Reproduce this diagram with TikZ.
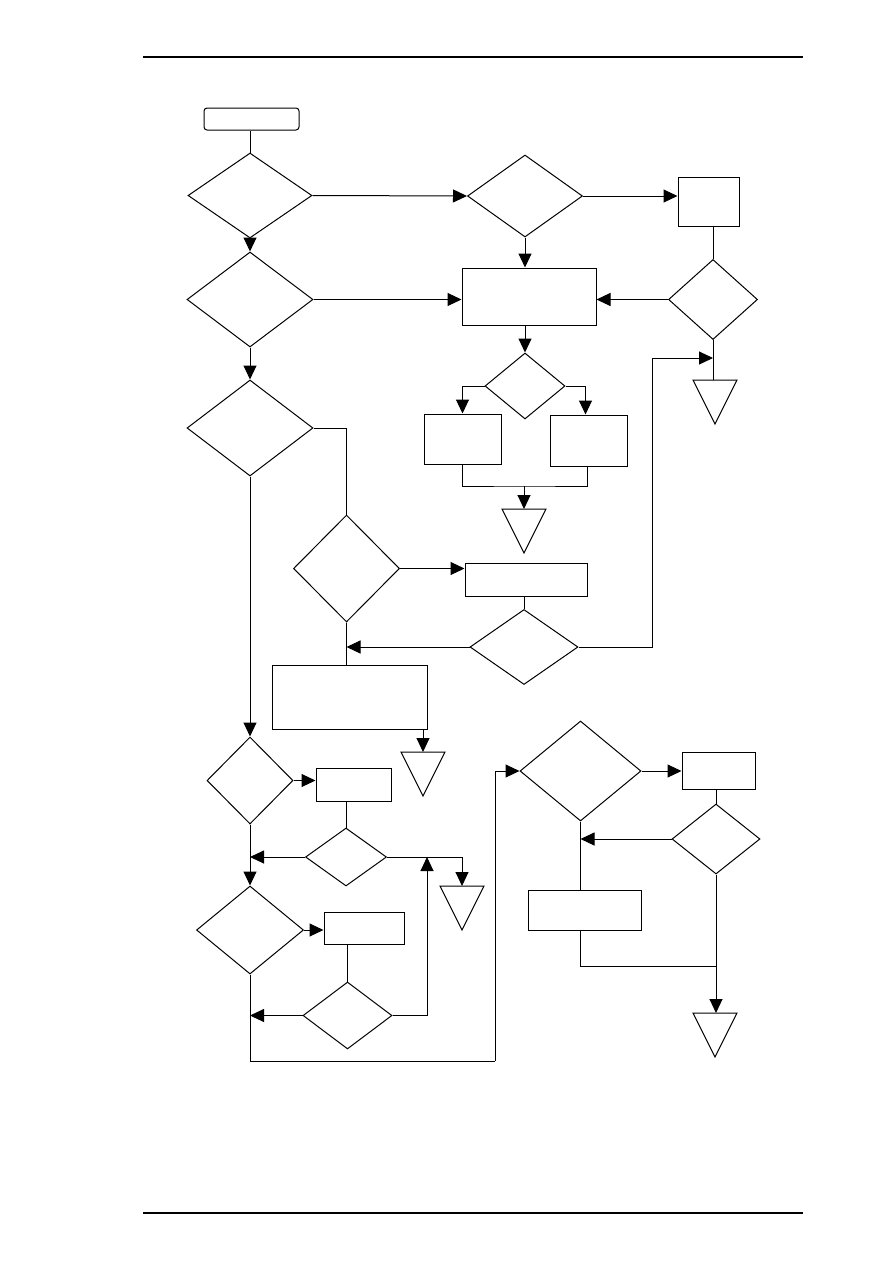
\documentclass[tikz,border=0pt]{standalone}
\usetikzlibrary{arrows.meta,shapes.geometric}
\begin{document}
\begin{tikzpicture}[x=1pt,y=-1pt,
  ln/.style={line width=1pt},
  arr/.style={ln,-{Triangle[length=14pt,width=13pt]}},
  dia/.style={draw,ln,diamond,inner sep=0pt},
  box/.style={draw,ln,rectangle,inner sep=0pt},
  rule/.style={line width=2.4pt}]
\useasboundingbox (0,0) rectangle (893,1263);
% page rules
\coordinate (r1a) at (143,57); \coordinate (r1b) at (803,57);
\coordinate (r2a) at (143,1213); \coordinate (r2b) at (803,1213);
\draw[line width=2pt] (r1a) -- (r1b);
\draw[line width=2.8pt] (r2a) -- (r2b);
% nodes
\node[box,rounded corners=3pt,minimum width=95pt,minimum height=22pt] (S) at (251.5,119) {};
\node[dia,minimum width=124pt,minimum height=85pt] (D1) at (250,195.5) {};
\node[dia,minimum width=126pt,minimum height=95pt] (D2) at (250,299.5) {};
\node[dia,minimum width=115pt,minimum height=82pt] (D3) at (525,196) {};
\node[box,minimum width=61pt,minimum height=49pt] (R1) at (708.5,201.5) {};
\node[box,minimum width=134pt,minimum height=57pt] (B1) at (529,296.5) {};
\node[dia,minimum width=89pt,minimum height=80pt] (D5) at (713,299.5) {};
\node[dia,minimum width=80pt,minimum height=66pt] (D6) at (525,386) {};
\node[box,minimum width=77pt,minimum height=50pt] (B2) at (462.5,439) {};
\node[box,minimum width=77pt,minimum height=51pt] (B3) at (588.5,440.5) {};
\node[dia,minimum width=126pt,minimum height=96pt] (D4) at (250,428) {};
\node[dia,minimum width=106pt,minimum height=107pt] (D7) at (346.5,568.5) {};
\node[box,minimum width=122pt,minimum height=33pt] (B4) at (526,579.5) {};
\node[dia,minimum width=108pt,minimum height=75pt] (D9) at (524,647) {};
\node[box,minimum width=155pt,minimum height=64pt] (B5) at (349.5,697) {};
\node[dia,minimum width=86pt,minimum height=87pt] (D8) at (250,780.5) {};
\node[box,minimum width=75pt,minimum height=33pt] (B6) at (353.5,784.5) {};
\node[dia,minimum width=81pt,minimum height=58pt] (D10) at (346,857) {};
\node[dia,minimum width=107pt,minimum height=88pt] (D11) at (250,930) {};
\node[box,minimum width=80pt,minimum height=32pt] (B7) at (364,928) {};
\node[dia,minimum width=89pt,minimum height=67pt] (D12) at (347.5,1015.5) {};
\node[dia,minimum width=121pt,minimum height=100pt] (D13) at (580.5,771) {};
\node[box,minimum width=73pt,minimum height=37pt] (B8) at (718.5,770.5) {};
\node[dia,minimum width=88pt,minimum height=70pt] (D14) at (716,839) {};
\node[box,minimum width=113pt,minimum height=40pt] (B9) at (584.5,910) {};
% triangles (top-centre coordinates)
\coordinate (T1) at (715,380);
\coordinate (T2) at (524,509);
\coordinate (T3) at (423,752);
\coordinate (T4) at (462,886);
\coordinate (T5) at (715,1013);
\foreach \t in {T1,T2,T3,T4,T5}{
  \draw[ln,line join=miter] ([xshift=-22pt]\t) -- ([xshift=22pt]\t) -- ([yshift=-44pt]\t) -- cycle;
}
% helper coordinates
\coordinate (L2) at (652,358);
\coordinate (J1) at (713,358);
\coordinate (J2) at (427,857);
\coordinate (L3) at (495,1061);
\coordinate (J5) at (716,966);
\coordinate (M1) at (524,486);
% connectors
\draw[ln] (D1.north |- S.south) -- (D1.north);
\draw[arr] (D1.south) -- (D2.north);
\draw[arr] (D1.east) -- (D3.west);
\draw[arr] (D3.east) -- (D3.east -| R1.west);
\draw[arr] (D3.south) -- (D3.south |- B1.north);
\draw[arr] (D2.east) -- (D2.east -| B1.west);
\draw[arr] (D2.south) -- (D4.north);
\draw[ln] (R1.south -| D5.north) -- (D5.north);
\draw[arr] (D5.west) -- (D5.west -| B1.east);
\draw[ln] (D5.south) -- (D5.south |- T1);
\draw[arr] (D6.north |- B1.south) -- (D6.north);
\draw[arr] (D6.west) -| (B2.north);
\draw[arr] (D6.east) -| ([xshift=-3pt]B3.north);
\draw[ln] (B2.south) |- (M1) -| ([xshift=-1pt]B3.south);
\draw[arr] (M1) -- (T2);
\draw[ln] (D4.east) -| (D7.north);
\draw[arr] (D7.east) -- (D7.east -| B4.west);
\draw[ln] (D9.north |- B4.south) -- (D9.north);
\draw[arr] (D9.west) -- (D9.west -| D7.south);
\draw[ln] (D7.south) -- (D7.south |- B5.north);
\draw[arr] (T3 |- B5.south) -- (T3);
\draw[arr] (D9.east) -| (L2) -- (J1);
\draw[arr] (D4.south) -- (D8.north);
\draw[arr] (D8.east) -- (D8.east -| B6.west);
\draw[ln] (D10.north |- B6.south) -- (D10.north);
\draw[arr] (D10.west) -- (D10.west -| D8.south);
\draw[arr] (D10.east) -| (T4);
\draw[arr] (D8.south) -- (D11.north);
\draw[arr] (D11.east) -- (D11.east -| B7.west);
\draw[ln] (D12.north |- B7.south) -- (D12.north);
\draw[arr] (D12.west) -- (D12.west -| D11.south);
\draw[arr] (D12.east) -| (J2);
\draw[ln] (D11.south) |- (L3);
\draw[arr] (L3) |- (D13.west);
\draw[arr] (D13.east) -- (D13.east -| B8.west);
\draw[ln] (D14.north |- B8.south) -- (D14.north);
\draw[arr] (D14.west) -- (D14.west -| D13.south);
\draw[ln] (D13.south) -- (D13.south |- B9.north);
\draw[ln] (D13.south |- B9.south) |- (J5);
\draw[arr] (D14.south) -- (D14.south |- T5);
\end{tikzpicture}
\end{document}
